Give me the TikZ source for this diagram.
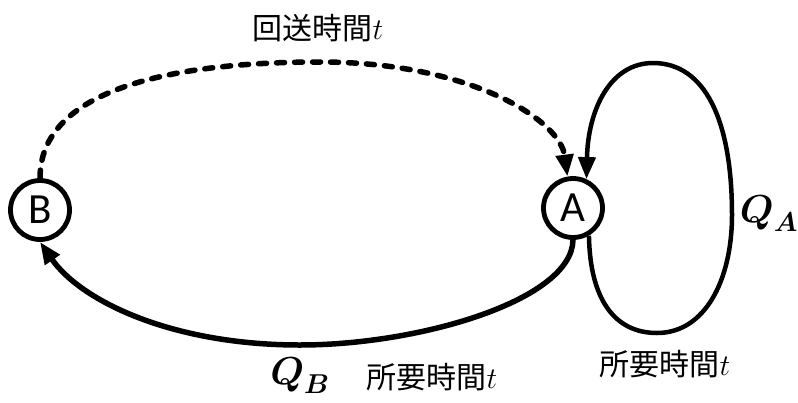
\RequirePackage{fix-cm}
\documentclass[tikz,border=0pt]{standalone}
\usepackage{amsmath}
\usepackage{fontspec}
\newfontfamily\jpfont{Noto Sans CJK JP}
\newfontfamily\carlfont{Carlito}
\usetikzlibrary{arrows.meta}
\begin{document}
\begin{tikzpicture}[x=1pt,y=1pt,
  state/.style={circle,draw,line width=4.8pt,minimum size=59pt,inner sep=0pt,
    font=\carlfont\fontsize{43}{46}\selectfont},
  jplabel/.style={font=\jpfont\fontsize{30}{36}\selectfont,inner sep=0pt},
  qlabel/.style={font=\fontsize{39}{44}\selectfont,inner sep=0pt},
  tip/.style={-{Triangle[length=22pt,width=17pt]}},
  edge/.style={line width=5pt,tip}]
\path[use as bounding box] (0,0) rectangle (798,-402);
\node[state] (B) at (40,-210) {B};
\node[state] (A) at (573,-208) {A};
% dashed return path
\coordinate (dtop) at (320,-62);
\draw[edge,line width=5.5pt,dash pattern=on 8pt off 10pt,line cap=round]
  (B.north) .. controls (40,-90) and (170,-62) .. (dtop)
  .. controls (470,-62) and (560,-120) .. (A.100);
% loop at A
\coordinate (lb) at (657,-333);
\coordinate (lr) at (732,-215);
\coordinate (lt) at (653,-63);
\draw[line width=4.5pt,tip]
  (A.-60) .. controls (590,-300) and (615,-333) .. (lb)
  .. controls (705,-333) and (732,-280) .. (lr)
  .. controls (732,-120) and (705,-63) .. (lt)
  .. controls (610,-63) and (588,-110) .. (A.65);
% A to B
\coordinate (bb) at (300,-345);
\draw[edge,line width=5.5pt]
  (A.south) .. controls (572,-300) and (420,-345) .. (bb)
  .. controls (170,-345) and (80,-300) .. (B.south);
% labels
\node[jplabel] (ltop) at (318,-28) {回送時間$t$};
\node[qlabel] (qb) at (300,-376) {$\boldsymbol{Q}_{\boldsymbol{B}}$};
\node[jplabel] (lb1) at (432,-377) {所要時間$t$};
\node[jplabel] (lb2) at (665,-364) {所要時間$t$};
\node[qlabel] (qa) at (769,-214) {$\boldsymbol{Q}_{\boldsymbol{A}}$};
\end{tikzpicture}
\end{document}
